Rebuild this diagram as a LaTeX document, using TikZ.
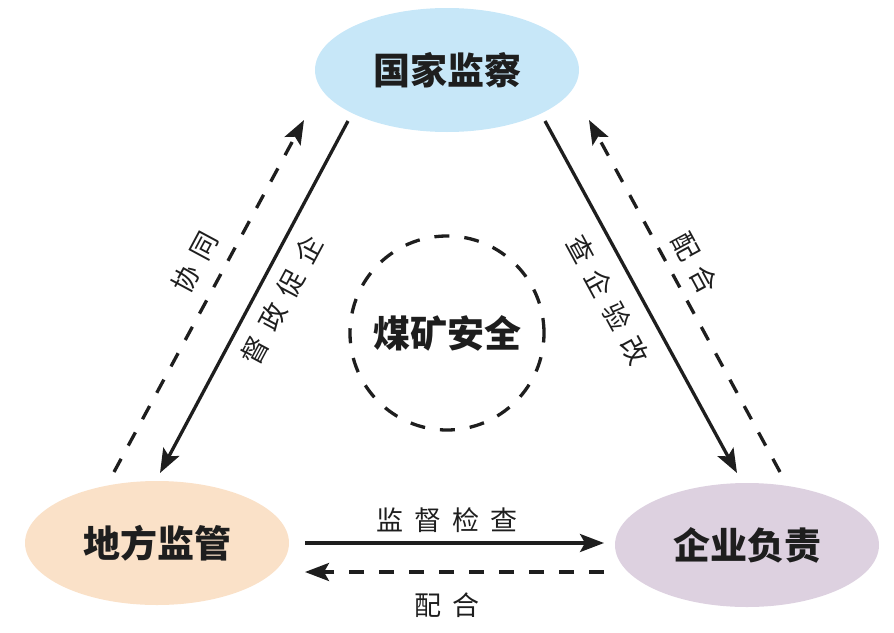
\documentclass[tikz,border=0pt]{standalone}
\usepackage{fontspec}
\newfontfamily\cjk{Noto Sans CJK SC}
\usetikzlibrary{arrows.meta,shapes.geometric}
\definecolor{cblue}{HTML}{C7E7F8}
\definecolor{cpeach}{HTML}{FAE1C8}
\definecolor{clav}{HTML}{DDD1E0}
\definecolor{ink}{HTML}{1E1E1E}
\newcommand{\gp}{\hspace{11pt}}
\tikzset{
  party/.style={ellipse, minimum width=264pt, minimum height=124pt, inner sep=0pt, font=\cjk\bfseries\fontsize{37}{40}\selectfont, text=ink},
  tipstyle/.style={-{Stealth[length=24pt,width=18pt,inset=5pt]}},
  solidarrow/.style={draw=ink, line width=3.3pt, tipstyle},
  dasharrow/.style={draw=ink, line width=3.3pt, dash pattern=on 15pt off 15pt, tipstyle},
  lbl/.style={font=\cjk\fontsize{27}{30}\selectfont, text=ink, inner sep=0pt},
}
\begin{document}
\begin{tikzpicture}[x=1pt,y=-1pt]
\useasboundingbox (0,0) rectangle (894,632);
\node[party, fill=cblue] (gj) at (447,70) {国家监察};
\node[party, fill=cpeach] (df) at (157,543) {地方监管};
\node[party, fill=clav] (qy) at (747,545) {企业负责};
\node[draw=ink, circle, line width=3.3pt, dash pattern=on 15pt off 15pt, minimum size=194pt, inner sep=0pt, font=\cjk\bfseries\fontsize{37}{40}\selectfont, text=ink] (mk) at (447,333) {煤矿安全};
% endpoints
\coordinate (l1s) at (348,121);
\coordinate (l1e) at (160,473);
\coordinate (l2s) at (114,472);
\coordinate (l2e) at (304,120);
\coordinate (r1s) at (545,121);
\coordinate (r1e) at (737,473);
\coordinate (r2s) at (780,472);
\coordinate (r2e) at (589,120);
\coordinate (b1s) at (305,543);
\coordinate (b1e) at (604,543);
\coordinate (b2s) at (604,572);
\coordinate (b2e) at (305,572);
\draw[solidarrow] (l1s) -- (l1e);
\draw[dasharrow] (l2s) -- (l2e);
\draw[solidarrow] (r1s) -- (r1e);
\draw[dasharrow] (r2s) -- (r2e);
\draw[solidarrow] (b1s) -- (b1e);
\draw[dasharrow] (b2s) -- (b2e);
\node[lbl, rotate=61.8] (xt) at (195,262) {协\gp 同};
\node[lbl, rotate=61.8] (dz) at (282,300) {督\gp 政\gp 促\gp 企};
\node[lbl, rotate=-61.5] (cq) at (608,300) {查\gp 企\gp 验\gp 改};
\node[lbl, rotate=-61.5] (ph1) at (695,263) {配\gp 合};
\node[lbl] (jd) at (447,520) {监\gp 督\gp 检\gp 查};
\node[lbl] (ph2) at (447,605) {配\gp 合};
\end{tikzpicture}
\end{document}
